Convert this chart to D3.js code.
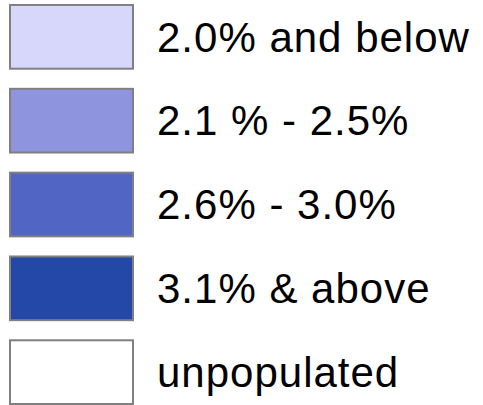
<!DOCTYPE html>
<html>
<head>
<meta charset="utf-8">
<script src="https://cdn.jsdelivr.net/npm/d3@7"></script>
<style>
  body { margin: 0; background: #fff; }
</style>
</head>
<body>
<svg id="legend"></svg>
<script>
const categories = ["2.0% and below", "2.1 % - 2.5%", "2.6% - 3.0%", "3.1% & above", "unpopulated"];
const colours = ["#d7d7fc", "#8e94dd", "#5165c4", "#2348a8", "#ffffff"];

const width = 483;
const height = 405;

const margin = ({ top: 5, bottom: 1, left: 10 });

// one band per legend row
let yScale = d3.scaleBand()
    .domain(categories)
    .range([margin.top, height - margin.bottom])
    .paddingInner(0.24)
    .paddingOuter(0);

let colour = d3.scaleOrdinal()
    .domain(categories)
    .range(colours);

const svg = d3.select("#legend")
    .attr("width", width)
    .attr("height", height);

const rows = svg.append("g")
    .selectAll("g")
    .data(categories)
    .join("g")
    .attr("transform", d => `translate(0,${yScale(d)})`);

rows.append("rect")
    .attr("x", margin.left)
    .attr("y", 0)
    .attr("width", 123)
    .attr("height", yScale.bandwidth())
    .attr("fill", d => colour(d))
    .attr("stroke", "#808080")
    .attr("stroke-width", 2);

rows.append("text")
    .attr("x", 157)
    .attr("y", yScale.bandwidth() / 2)
    .attr("dy", "0.35em")
    .attr("font-family", "Arial, 'Liberation Sans', sans-serif")
    .attr("font-size", 42)
    .attr("letter-spacing", 1)
    .attr("fill", "#000")
    .text(d => d);
</script>
</body>
</html>
